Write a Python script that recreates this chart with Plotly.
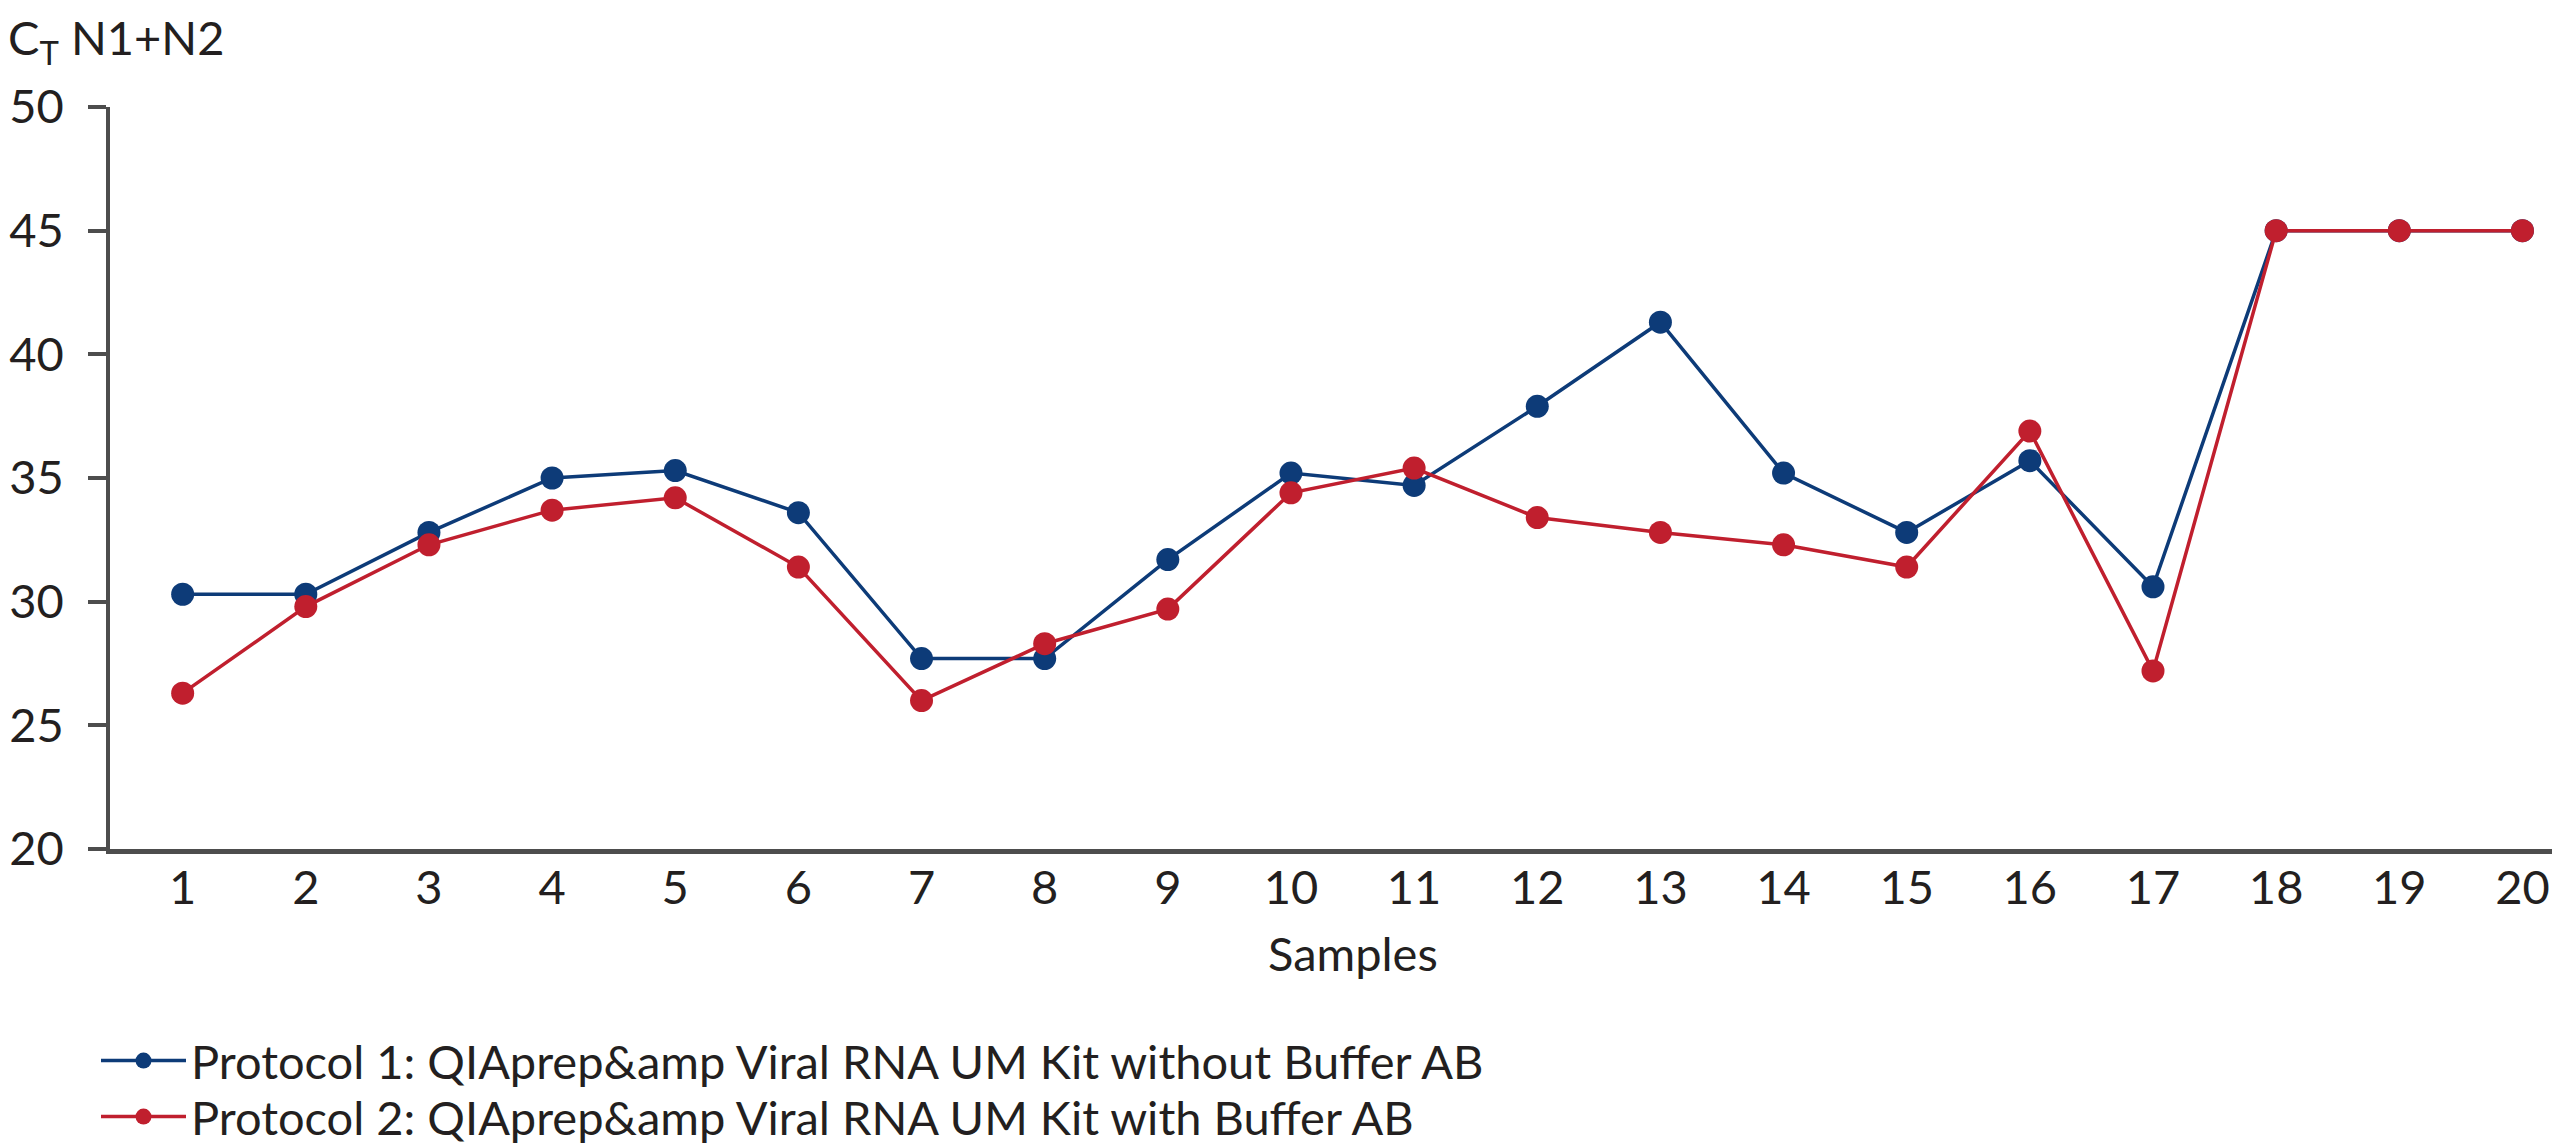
import plotly.graph_objects as go

samples = list(range(1, 21))
tick_labels = [str(s) for s in samples]
protocol1 = [30.3, 30.3, 32.8, 35.0, 35.3, 33.6, 27.7, 27.7, 31.7, 35.2,
             34.7, 37.9, 41.3, 35.2, 32.8, 35.7, 30.6, 45.0, 45.0, 45.0]
protocol2 = [26.3, 29.8, 32.3, 33.7, 34.2, 31.4, 26.0, 28.3, 29.7, 34.4,
             35.4, 33.4, 32.8, 32.3, 31.4, 36.9, 27.2, 45.0, 45.0, 45.0]
name1 = "Protocol 1: QIAprep&amp Viral RNA UM Kit without Buffer AB"
name2 = "Protocol 2: QIAprep&amp Viral RNA UM Kit with Buffer AB"

BLUE = "#0d3b78"
RED = "#c01f2e"
TXT = "#231f20"
AX = "#4d4d4d"
FONT = "Lato"
FS = 47

W, H = 2560, 1145
L, R, T, B = 102, 0, 99, 304
PW, PH = W - L - R, H - T - B


def px_to_paper_y(py):
    return (H - B - py) / PH


def px_to_paper_x(px):
    return (px - L) / PW


fig = go.Figure()
fig.add_trace(go.Scatter(x=samples, y=protocol1, name=name1, mode="lines+markers",
                         line=dict(color=BLUE, width=3.5),
                         marker=dict(color=BLUE, size=23), legend="legend"))
fig.add_trace(go.Scatter(x=samples, y=protocol2, name=name2, mode="lines+markers",
                         line=dict(color=RED, width=3.5),
                         marker=dict(color=RED, size=23), legend="legend2"))

leg_common = dict(xref="paper", yref="paper", xanchor="left", yanchor="middle",
                  bgcolor="rgba(0,0,0,0)", font=dict(family=FONT, size=FS, color=TXT),
                  itemwidth=85, borderwidth=0)

fig.update_layout(
    width=W, height=H,
    margin=dict(l=L, r=R, t=T, b=B, pad=0, autoexpand=False),
    paper_bgcolor="white", plot_bgcolor="white",
    font=dict(family=FONT, size=FS, color=TXT),
    showlegend=True,
    legend=dict(x=px_to_paper_x(88), y=px_to_paper_y(1053), **leg_common),
    legend2=dict(x=px_to_paper_x(88), y=px_to_paper_y(1109), **leg_common),
    xaxis=dict(range=[0.41, 20.37], tickmode="array", tickvals=samples, ticktext=tick_labels,
               showgrid=False, zeroline=False, showline=True, linecolor=AX, linewidth=5,
               ticks="", ticklabelstandoff=-6, tickangle=0,
               tickfont=dict(family=FONT, size=FS, color=TXT)),
    yaxis=dict(range=[20, 50], tickmode="array", tickvals=[20, 25, 30, 35, 40, 45, 50],
               showgrid=False, zeroline=False, showline=True, linecolor=AX, linewidth=3.5,
               ticks="outside", ticklen=18, tickwidth=3.5, tickcolor=AX,
               ticklabelstandoff=15,
               tickfont=dict(family=FONT, size=FS, color=TXT)),
    annotations=[
        dict(text="C<sub>T</sub> N1+N2", xref="paper", yref="paper",
             x=px_to_paper_x(-2), y=px_to_paper_y(33),
             xanchor="left", yanchor="middle", showarrow=False,
             font=dict(family=FONT, size=FS, color=TXT)),
        dict(text="Samples", xref="x", yref="paper", x=10.5,
             y=px_to_paper_y(945), xanchor="center", yanchor="middle",
             showarrow=False, font=dict(family=FONT, size=FS, color=TXT)),
    ],
)

fig.write_html("out.html")
